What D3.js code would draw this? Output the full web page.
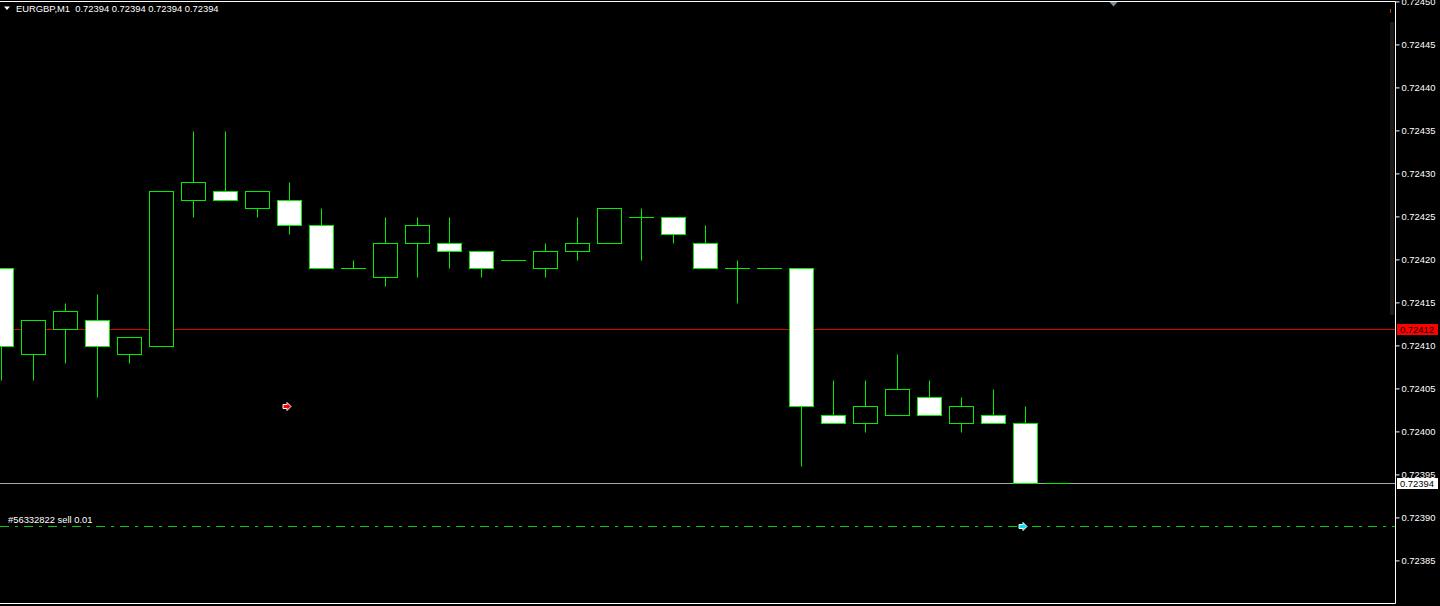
<!DOCTYPE html>
<html><head><meta charset="utf-8">
<script src="https://cdn.jsdelivr.net/npm/d3@7"></script>
<style>html,body{margin:0;padding:0;background:#000;overflow:hidden}svg{display:block}</style>
</head><body><svg id="c" width="1440" height="606"></svg>
<script>
// ---- data ----
const symbol = "EURGBP,M1";
const bars = d3.range(34);
const opens  = [0.72419,0.72409,0.72412,0.72413,0.72409,0.72410,0.72427,0.72428,0.72426,0.72427,0.72424,0.72419,0.72418,0.72422,0.72422,0.72421,0.72420,0.72419,0.72421,0.72422,0.72425,0.72425,0.72422,0.72419,0.72419,0.72419,0.72402,0.72401,0.72402,0.72404,0.72401,0.72402,0.72401,0.72394];
const highs  = [0.72419,0.72413,0.72415,0.72416,0.72411,0.72428,0.72435,0.72435,0.72428,0.72429,0.72426,0.72420,0.72425,0.72425,0.72425,0.72421,0.72420,0.72422,0.72425,0.72426,0.72426,0.72425,0.72424,0.72420,0.72419,0.72419,0.72406,0.72406,0.72409,0.72406,0.72404,0.72405,0.72403,0.72394];
const lows   = [0.72406,0.72406,0.72408,0.72404,0.72408,0.72410,0.72425,0.72427,0.72425,0.72423,0.72419,0.72419,0.72417,0.72418,0.72419,0.72418,0.72420,0.72418,0.72420,0.72422,0.72420,0.72422,0.72419,0.72415,0.72419,0.72396,0.72401,0.72400,0.72402,0.72402,0.72400,0.72401,0.72394,0.72394];
const closes = [0.72410,0.72413,0.72414,0.72410,0.72411,0.72428,0.72429,0.72427,0.72428,0.72424,0.72419,0.72419,0.72422,0.72424,0.72421,0.72419,0.72420,0.72421,0.72422,0.72426,0.72425,0.72423,0.72419,0.72419,0.72419,0.72403,0.72401,0.72403,0.72405,0.72402,0.72403,0.72401,0.72394,0.72394];
const tickValues = [0.72450,0.72445,0.72440,0.72435,0.72430,0.72425,0.72420,0.72415,0.72410,0.72405,0.72400,0.72395,0.72390,0.72385];
const askPrice = 0.72412;
const bidPrice = 0.72394;
const orderPrice = 0.72389;
const orderLabel = "#56332822 sell 0.01";
const markerBars   = [9, 32];
const markerPrices = [0.72403, 0.72389];
const markerColors = ["#ff0000", "#00e5ff"];

// ---- scales ----
const W = 1440, H = 606, plotR = 1395;
const FONT = "Liberation Sans, Arial, sans-serif", FS = "9.4px";
const x = d3.scaleLinear().domain([0, 1]).range([1, 33]);
const y = d3.scaleLinear().domain([0.72380, 0.72450]).range([604.2, 2.2]);
const py = v => Math.floor(y(v)) + 0.5;

const GREEN = "#00ee00";
const svg = d3.select("#c");
svg.append("rect").attr("width", W).attr("height", H).attr("fill", "#000");
svg.append("defs").append("clipPath").attr("id","pc").append("rect")
  .attr("x",0).attr("y",1).attr("width",plotR).attr("height",603);
const plot = svg.append("g").attr("clip-path","url(#pc)");

// gray strip & small mark near right edge
plot.append("rect").attr("x",1390).attr("y",22).attr("width",4).attr("height",293).attr("fill","#1b1b1b");
plot.append("rect").attr("x",1390).attr("y",9).attr("width",1).attr("height",4).attr("fill","#c04000");

// ask line (red), bid line (gray)
plot.append("line").attr("x1",0).attr("x2",plotR).attr("y1",py(askPrice)).attr("y2",py(askPrice))
  .attr("stroke","#e00000").attr("stroke-width",1);
plot.append("line").attr("x1",0).attr("x2",plotR).attr("y1",py(bidPrice)).attr("y2",py(bidPrice))
  .attr("stroke","#a8a8a8").attr("stroke-width",1);

// order line
plot.append("line").attr("x1",0).attr("x2",plotR).attr("y1",py(orderPrice)).attr("y2",py(orderPrice))
  .attr("stroke","#00d000").attr("stroke-width",1).attr("stroke-dasharray","9,6,3,6");
plot.append("text").attr("x",8).attr("y",py(orderPrice)-3.5).text(orderLabel)
  .attr("fill","#ffffff").attr("font-family",FONT).attr("font-size",FS);

// candles
const cg = plot.append("g");
bars.forEach(i => {
  const cx = Math.round(x(i)) + 0.5;
  const o = opens[i], h = highs[i], l = lows[i], c = closes[i];
  if (py(h) !== py(l)) {
    cg.append("line").attr("x1",cx).attr("x2",cx).attr("y1",py(h)).attr("y2",py(l))
      .attr("stroke",GREEN).attr("stroke-width",1);
  }
  const top = py(Math.max(o,c)), bot = py(Math.min(o,c));
  if (top === bot) {
    cg.append("line").attr("x1",cx-12.5).attr("x2",cx+12.5).attr("y1",top).attr("y2",top)
      .attr("stroke",GREEN).attr("stroke-width",1);
  } else {
    cg.append("rect").attr("x",cx-12).attr("y",top).attr("width",24).attr("height",bot-top)
      .attr("fill", c > o ? "#000000" : "#ffffff").attr("stroke",GREEN).attr("stroke-width",1);
  }
});

// order arrows
markerBars.forEach((b,k) => {
  const tx = Math.round(x(b)) + 2, ty = Math.floor(y(markerPrices[k])) + 0.5;
  plot.append("path")
    .attr("d", `M${tx-8},${ty-2}L${tx-4},${ty-2}L${tx-4},${ty-4}L${tx},${ty}L${tx-4},${ty+4}L${tx-4},${ty+2}L${tx-8},${ty+2}Z`)
    .attr("fill", markerColors[k]).attr("stroke","#ffffff").attr("stroke-width",1);
});

// chart shift triangle
svg.append("path").attr("d","M1109.5,2L1117.5,2L1113.5,6.5Z").attr("fill","#7d8b99");

// frame
svg.append("path").attr("d",`M0,1.5H${plotR+0.5}V603.5H0`).attr("fill","none").attr("stroke","#ffffff").attr("stroke-width",1);

// y axis
const axis = d3.axisRight(y).tickValues(tickValues).tickSize(4).tickPadding(2).tickFormat(d3.format(".5f"));
const ag = svg.append("g").attr("transform",`translate(${plotR+0.5},-0.8)`).call(axis);
ag.select(".domain").remove();
ag.selectAll(".tick line").attr("stroke","#ffffff");
ag.selectAll(".tick text").attr("fill","#ffffff").attr("font-family",FONT).attr("font-size",FS);

// price labels
function priceLabel(p, bg, fg) {
  const yy = Math.floor(y(p));
  svg.append("rect").attr("x",1397).attr("y",yy-5).attr("width",41).attr("height",11).attr("fill",bg);
  svg.append("text").attr("x",1400).attr("y",yy+4).text(d3.format(".5f")(p))
    .attr("fill",fg).attr("font-family",FONT).attr("font-size",FS);
}
priceLabel(askPrice, "#ff0000", "#000000");
priceLabel(bidPrice, "#ffffff", "#000000");

// title
svg.append("path").attr("d","M4,6.5L10,6.5L7,10Z").attr("fill","#ffffff");
const f5 = d3.format(".5f");
svg.append("text").attr("x",16).attr("y",12).attr("xml:space","preserve")
  .text(`${symbol}  ${f5(opens[33])} ${f5(highs[33])} ${f5(lows[33])} ${f5(closes[33])}`)
  .attr("fill","#ffffff").attr("font-family",FONT).attr("font-size",FS)
  .style("white-space","pre");
</script></body></html>
